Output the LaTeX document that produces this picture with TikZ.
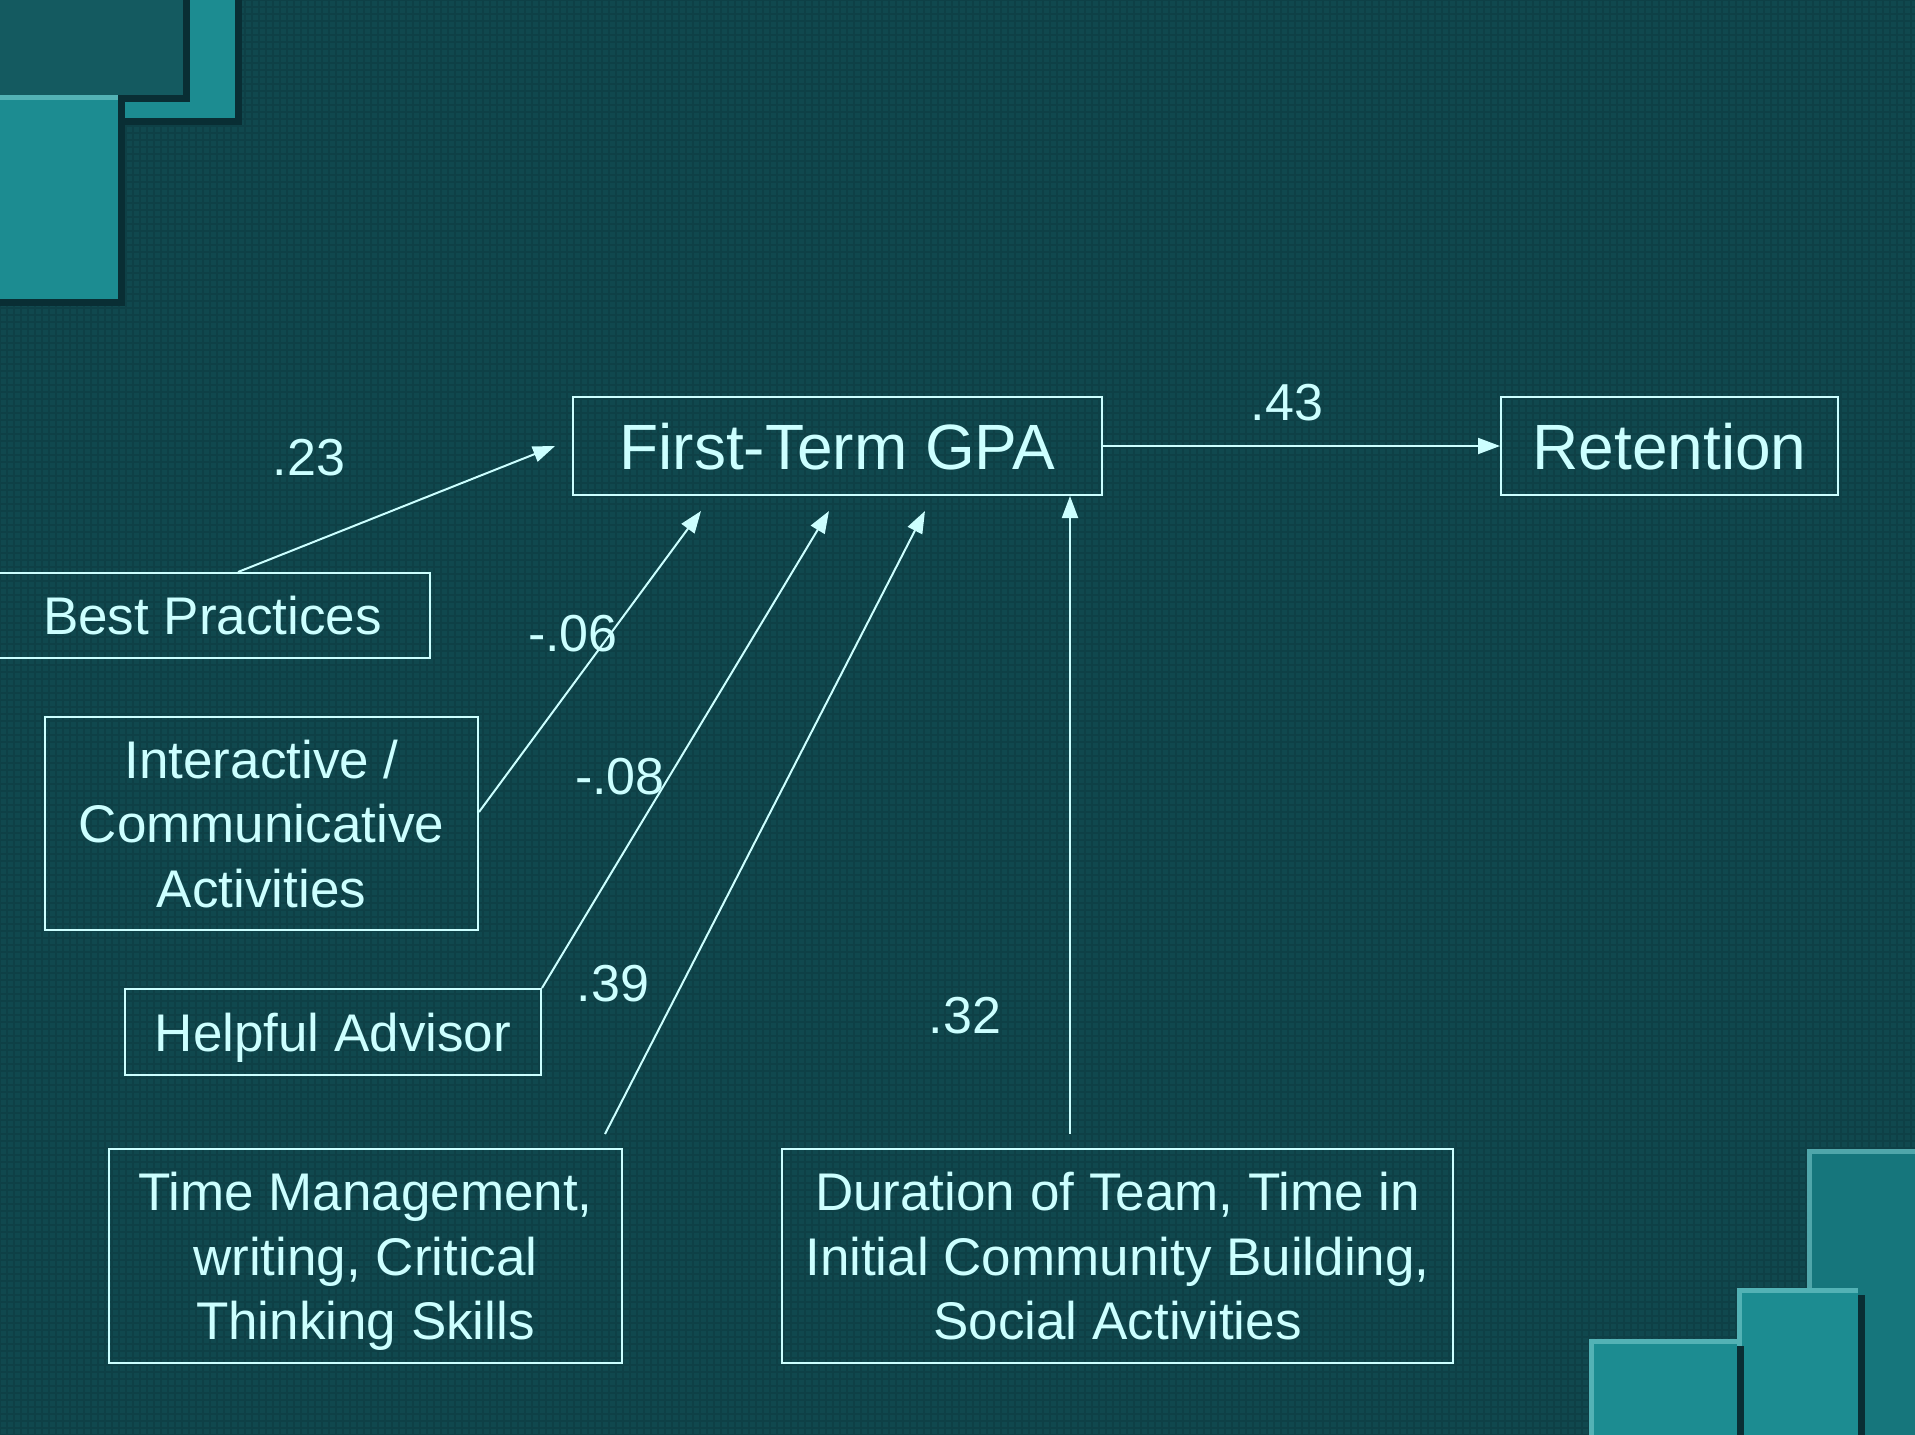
\documentclass[tikz,border=0pt]{standalone}
\usepackage{fontspec}
\setmainfont{Liberation Sans}
\usetikzlibrary{arrows.meta}
\definecolor{bg}{RGB}{16,72,78}
\definecolor{ink}{RGB}{204,255,255}
\definecolor{tileA}{RGB}{28,140,145}
\definecolor{tileB}{RGB}{20,90,96}
\definecolor{tileC}{RGB}{22,118,124}
\definecolor{hilite}{RGB}{150,225,225}
\definecolor{dropshadow}{RGB}{9,46,52}
% a box whose capital letters sit centred: #1 = depth below the first baseline
\tikzset{
  boxtext/.style={draw=ink, line width=2pt, text=ink, inner sep=0pt,
    font=\fontsize{53}{64.5}\selectfont, text height=38pt, text depth=#1},
  boxtext/.default=0pt,
  titlebox/.style={draw=ink, line width=2pt, text=ink, inner sep=0pt,
    font=\fontsize{64}{76}\selectfont, text height=46pt, text depth=0pt},
  coef/.style={text=ink, inner sep=0pt, font=\fontsize{52}{62}\selectfont},
  link/.style={draw=ink, line width=2pt, -{Triangle[length=22pt,width=16pt]}},
}
\newcommand{\rows}[1]{\begin{tabular}[t]{@{}c@{}}#1\end{tabular}}
% raised tile: x1 y1 x2 y2 colour (y grows downwards)
\newcommand{\tile}[5]{%
  \fill[dropshadow] ({#1+7},{#2+7}) rectangle ({#3+7},{#4+7});
  \fill[#5] (#1,#2) rectangle (#3,#4);
  \fill[hilite!45!#5] (#1,#2) rectangle (#3,{#2+5});
  \fill[hilite!45!#5] (#1,{#2+5}) rectangle ({#1+5},#4);
}
\begin{document}
\begin{tikzpicture}[x=1pt,y=-1pt]
\useasboundingbox (0,0) rectangle (1915,1435);
\clip (0,0) rectangle (1915,1435);
\fill[bg] (0,0) rectangle (1915,1435);
% fine woven texture of the backdrop
\draw[black,opacity=0.10,line width=1.6pt,step=7pt] (0,0) grid (1915,1435);

% corner tiles, top left
\tile{116}{-10}{235}{118}{tileA}
\tile{-10}{-10}{183}{95}{tileB}
\tile{-10}{95}{118}{299}{tileA}
% corner tiles, bottom right
\tile{1807}{1149}{1940}{1460}{tileC}
\tile{1737}{1288}{1858}{1460}{tileA}
\tile{1589}{1339}{1737}{1460}{tileA}

% boxes
\node[titlebox, minimum width=529pt, minimum height=98pt] (gpa) at (837.5,446) {First-Term GPA};
\node[titlebox, minimum width=337pt, minimum height=98pt] (ret) at (1669.5,446) {Retention};
\node[boxtext, minimum width=435pt, minimum height=85pt] (best) at (212.5,615.5) {Best Practices};
\node[boxtext=129pt, minimum width=433pt, minimum height=213pt] (inter) at (261.5,823.5) {\rows{Interactive /\\Communicative\\Activities}};
\node[boxtext, minimum width=416pt, minimum height=86pt] (advisor) at (333,1032) {Helpful Advisor};
\node[boxtext=129pt, minimum width=513pt, minimum height=214pt] (skills) at (365.5,1256) {\rows{Time Management,\\writing, Critical\\Thinking Skills}};
\node[boxtext=129pt, minimum width=671pt, minimum height=214pt] (team) at (1117.5,1256) {\rows{Duration of Team, Time in\\Initial Community Building,\\Social Activities}};

% paths
\draw[link] ([xshift=25.5pt]best.north) -- ([xshift=-17pt]gpa.west);
\draw[link] ([yshift=11.5pt]inter.east) -- ([xshift=-136.5pt,yshift=-15pt]gpa.south);
\draw[link] (advisor.north east) -- ([xshift=-8.5pt,yshift=-15pt]gpa.south);
\draw[link] ([xshift=239.5pt,yshift=14pt]skills.north) -- ([xshift=87.5pt,yshift=-15pt]gpa.south);
\draw[link] ([xshift=-47.5pt,yshift=14pt]team.north) -- ([xshift=232.5pt]gpa.south);
\draw[link] (gpa.east) -- (ret.west);

% path coefficients
\node[coef] (c23) at (309,458) {.23};
\node[coef] (c43) at (1287,403) {.43};
\node[coef] (c06) at (573,634) {-.06};
\node[coef] (c08) at (620,777) {-.08};
\node[coef] (c39) at (613,984) {.39};
\node[coef] (c32) at (965,1016) {.32};
\end{tikzpicture}
\end{document}
